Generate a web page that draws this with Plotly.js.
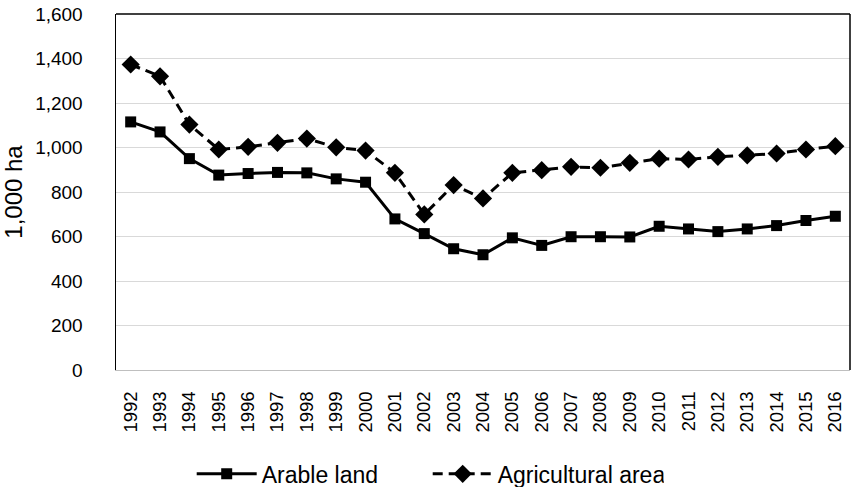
<!DOCTYPE html>
<html>
<head>
<meta charset="utf-8">
<script src="https://cdn.plot.ly/plotly-3.0.1.min.js"></script>
<style>html,body{margin:0;padding:0;background:#fff;}#chart{width:852px;height:487px;}</style>
</head>
<body>
<div id="chart"></div>
<script>
const years = ["1992","1993","1994","1995","1996","1997","1998","1999","2000","2001","2002","2003","2004","2005","2006","2007","2008","2009","2010","2011","2012","2013","2014","2015","2016"];
const arableLand = [1115,1070,950,876,883,888,886,859,844,679,613,545,518,594,560,599,599,598,646,634,622,634,649,672,691];
const agriculturalArea = [1373,1320,1103,991,1003,1021,1040,1001,986,886,699,831,771,886,898,913,909,931,950,946,958,965,973,991,1006];
const yTitle = "1,000 ha";

const font = "Liberation Sans, Arial, sans-serif";
const traces = [
  {x: years, y: arableLand, name: "Arable land", type: "scatter", mode: "lines+markers",
   line: {color: "#000", width: 3}, marker: {symbol: "square", size: 11, color: "#000"}},
  {x: years, y: agriculturalArea, name: "Agricultural area", type: "scatter", mode: "lines+markers",
   line: {color: "#000", width: 3, dash: "10px,6px"}, marker: {symbol: "diamond", size: 14, color: "#000"}}
];
const layout = {
  width: 852, height: 487,
  margin: {l: 116, r: 2, t: 14, b: 117},
  paper_bgcolor: "#fff", plot_bgcolor: "#fff",
  font: {family: font, color: "#000", size: 18},
  showlegend: true,
  legend: {orientation: "h", xref: "container", yref: "container", x: 0.225, xanchor: "left",
           y: 0.027, yanchor: "middle", font: {size: 23, family: font}, itemwidth: 60,
           entrywidth: 161, entrywidthmode: "pixels"},
  xaxis: {type: "category", range: [-0.5, 24.5], tickangle: -90, showgrid: false, automargin: false,
          showline: true, linecolor: "#bfbfbf", linewidth: 1, ticks: "",
          tickfont: {size: 18.5, family: font}, ticklabelstandoff: 13, zeroline: false},
  yaxis: {range: [0, 1600], dtick: 200, tickformat: ",", showgrid: true, gridcolor: "#d9d9d9", gridwidth: 1,
          showline: true, linecolor: "#000", linewidth: 1.5, mirror: false, ticks: "", zeroline: false,
          automargin: false, tickfont: {size: 19, family: font}, ticklabelstandoff: 28,
          title: {text: yTitle, font: {size: 24, family: font}, standoff: 8}},
  shapes: [
    {type: "line", xref: "paper", yref: "paper", x0: 0, x1: 1, y0: 1, y1: 1, line: {color: "#000", width: 1.5}},
    {type: "line", xref: "paper", yref: "paper", x0: 1, x1: 1, y0: 0, y1: 1, line: {color: "#000", width: 1.5}}
  ]
};
Plotly.newPlot("chart", traces, layout, {displayModeBar: false, staticPlot: true});
</script>
</body>
</html>
